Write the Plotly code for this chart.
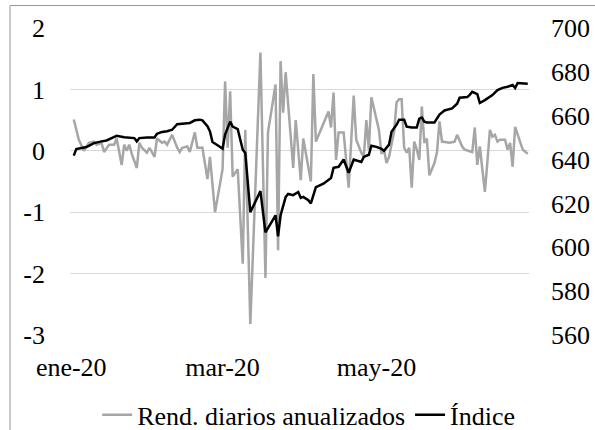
import plotly.graph_objects as go

# Daily annualised returns (left axis)
RET_DATES = [
    "2020-01-02", "2020-01-04", "2020-01-06", "2020-01-08", "2020-01-10", "2020-01-11",
    "2020-01-13", "2020-01-14", "2020-01-16", "2020-01-18", "2020-01-19", "2020-01-21",
    "2020-01-22", "2020-01-23", "2020-01-24", "2020-01-25", "2020-01-27", "2020-01-28",
    "2020-01-29", "2020-01-31", "2020-02-01", "2020-02-03", "2020-02-04", "2020-02-06",
    "2020-02-07", "2020-02-08", "2020-02-10", "2020-02-12", "2020-02-13", "2020-02-14",
    "2020-02-16", "2020-02-17", "2020-02-19", "2020-02-20", "2020-02-22", "2020-02-24",
    "2020-02-25", "2020-02-27", "2020-03-01", "2020-03-02", "2020-03-03", "2020-03-04",
    "2020-03-05", "2020-03-07", "2020-03-09", "2020-03-10", "2020-03-12", "2020-03-16",
    "2020-03-18", "2020-03-19", "2020-03-22", "2020-03-23", "2020-03-24", "2020-03-25",
    "2020-03-26", "2020-03-29", "2020-03-30", "2020-04-01", "2020-04-02", "2020-04-05",
    "2020-04-06", "2020-04-07", "2020-04-12", "2020-04-13", "2020-04-14", "2020-04-15",
    "2020-04-16", "2020-04-18", "2020-04-20", "2020-04-22", "2020-04-23", "2020-04-25",
    "2020-04-26", "2020-04-27", "2020-04-28", "2020-04-29", "2020-05-02", "2020-05-03",
    "2020-05-04", "2020-05-05", "2020-05-06", "2020-05-08", "2020-05-09", "2020-05-10",
    "2020-05-11", "2020-05-12", "2020-05-13", "2020-05-14", "2020-05-15", "2020-05-16",
    "2020-05-17", "2020-05-18", "2020-05-19", "2020-05-20", "2020-05-21", "2020-05-22",
    "2020-05-24", "2020-05-25", "2020-05-26", "2020-05-27", "2020-05-30", "2020-06-01",
    "2020-06-02", "2020-06-04", "2020-06-05", "2020-06-07", "2020-06-08", "2020-06-09",
    "2020-06-10", "2020-06-11", "2020-06-13", "2020-06-14", "2020-06-15", "2020-06-16",
    "2020-06-17", "2020-06-18", "2020-06-19", "2020-06-21", "2020-06-22", "2020-06-23",
    "2020-06-24", "2020-06-25", "2020-06-28", "2020-06-30",
]
RET_VALUES = [
    0.51, 0.18, 0.00, 0.13, 0.15, 0.10,
    0.13, -0.02, 0.10, 0.10, 0.20, -0.23,
    0.10, 0.00, 0.10, -0.05, -0.28, 0.13,
    0.05, -0.03, 0.05, -0.10, 0.20, 0.13,
    0.15, 0.10, 0.26, 0.05, -0.02, 0.05,
    0.07, -0.02, 0.30, 0.05, 0.05, -0.46,
    -0.10, -1.00, -0.30, 1.13, 0.05, 0.97,
    -0.42, -0.30, -1.84, 0.34, -2.82, 1.60,
    -2.07, 0.30, 1.08, -1.62, 1.46, 0.62,
    1.28, -0.28, 0.50, -0.48, 0.20, -0.50,
    1.25, 0.15, 0.64, 0.38, 0.95, -0.15,
    0.30, 0.30, -0.60, 0.90, 0.18, -0.03,
    -0.10, 0.50, 0.02, 0.87, 0.34, -0.05,
    0.02, -0.20, -0.10, 0.31, 0.79, 0.84,
    0.84, 0.05, -0.03, 0.05, -0.60, 0.15,
    0.02, -0.15, 0.72, 0.13, 0.20, -0.40,
    -0.20, -0.03, 0.48, 0.15, 0.13, 0.15,
    0.26, 0.07, 0.02, 0.00, -0.02, 0.38,
    -0.23, 0.07, -0.67, -0.18, 0.34, 0.23,
    0.26, 0.15, 0.18, 0.18, 0.02, 0.13,
    -0.26, 0.39, 0.02, -0.05,
]

# Index level (right axis)
IDX_DATES = [
    "2020-01-02", "2020-01-03", "2020-01-07", "2020-01-10", "2020-01-13", "2020-01-15",
    "2020-01-17", "2020-01-19", "2020-01-22", "2020-01-26", "2020-01-27", "2020-01-28",
    "2020-01-31", "2020-02-03", "2020-02-04", "2020-02-06", "2020-02-08", "2020-02-10",
    "2020-02-12", "2020-02-14", "2020-02-17", "2020-02-19", "2020-02-21", "2020-02-22",
    "2020-02-24", "2020-02-25", "2020-02-26", "2020-02-28", "2020-03-01", "2020-03-02",
    "2020-03-04", "2020-03-05", "2020-03-07", "2020-03-09", "2020-03-10", "2020-03-12",
    "2020-03-16", "2020-03-18", "2020-03-22", "2020-03-23", "2020-03-24", "2020-03-26",
    "2020-03-27", "2020-03-29", "2020-03-31", "2020-04-01", "2020-04-02", "2020-04-04",
    "2020-04-05", "2020-04-07", "2020-04-10", "2020-04-13", "2020-04-14", "2020-04-16",
    "2020-04-17", "2020-04-18", "2020-04-20", "2020-04-22", "2020-04-25", "2020-04-26",
    "2020-04-28", "2020-04-29", "2020-05-01", "2020-05-03", "2020-05-04", "2020-05-06",
    "2020-05-07", "2020-05-09", "2020-05-10", "2020-05-12", "2020-05-13", "2020-05-15",
    "2020-05-17", "2020-05-18", "2020-05-19", "2020-05-20", "2020-05-21", "2020-05-24",
    "2020-05-26", "2020-05-28", "2020-05-31", "2020-06-02", "2020-06-03", "2020-06-06",
    "2020-06-07", "2020-06-08", "2020-06-10", "2020-06-11", "2020-06-13", "2020-06-16",
    "2020-06-18", "2020-06-20", "2020-06-22", "2020-06-24", "2020-06-25", "2020-06-26",
    "2020-06-30",
]
IDX_VALUES = [
    641.8, 644.8, 645.7, 647.5, 648.3, 648.7,
    649.8, 650.8, 650.2, 649.8, 648.3, 649.8,
    650.1, 650.1, 651.8, 652.6, 652.9, 653.6,
    656.1, 656.4, 656.7, 657.9, 658.2, 657.9,
    655.2, 652.8, 648.0, 646.5, 645.0, 651.4,
    657.3, 655.0, 653.9, 644.5, 643.0, 616.0,
    625.6, 606.8, 614.6, 605.0, 614.6, 622.9,
    624.3, 623.8, 625.2, 622.5, 623.0, 621.5,
    620.0, 627.4, 629.0, 631.6, 636.2, 636.7,
    638.5, 640.0, 634.0, 640.0, 638.9, 641.2,
    642.2, 646.3, 645.8, 644.9, 644.0, 646.8,
    652.7, 655.9, 658.2, 658.2, 655.0, 654.6,
    654.6, 658.7, 659.2, 657.3, 656.9, 656.9,
    660.5, 662.4, 663.3, 665.5, 668.2, 668.5,
    669.5, 670.9, 669.8, 665.8, 667.1, 669.4,
    671.7, 672.7, 673.2, 674.0, 672.6, 674.9,
    674.6,
]

X_TICK_VALS = ["2020-01-01", "2020-03-01", "2020-05-01"]
X_TICK_TEXT = ["ene-20", "mar-20", "may-20"]
LEFT_TICK_VALS = [2, 1, 0, -1, -2, -3]
LEFT_TICK_TEXT = ["2", "1", "0", "-1", "-2", "-3"]
RIGHT_TICK_VALS = [700, 680, 660, 640, 620, 600, 580, 560]

FONT = "'Liberation Serif', 'DejaVu Serif', serif"
GRID_COLOUR = "#d9d9d9"
RET_COLOUR = "#a6a6a6"
IDX_COLOUR = "#000000"

fig = go.Figure()

fig.add_trace(
    go.Scatter(
        x=RET_DATES,
        y=RET_VALUES,
        mode="lines",
        name="Rend. diarios anualizados",
        line={"color": RET_COLOUR, "width": 2.5},
        yaxis="y",
    )
)
fig.add_trace(
    go.Scatter(
        x=IDX_DATES,
        y=IDX_VALUES,
        mode="lines",
        name="Índice",
        line={"color": IDX_COLOUR, "width": 2.5},
        yaxis="y2",
    )
)

tick_font = {"family": FONT, "size": 26, "color": "#000000"}

fig.update_layout(
    width=595,
    height=430,
    margin={"l": 70, "r": 66, "t": 28, "b": 95, "autoexpand": False},
    paper_bgcolor="white",
    plot_bgcolor="white",
    font=tick_font,
    showlegend=True,
    legend={
        "orientation": "h",
        "x": 0.52,
        "xanchor": "center",
        "y": -0.26,
        "yanchor": "middle",
        "font": tick_font,
        "itemwidth": 30,
        "tracegroupgap": 0,
    },
    xaxis={
        "type": "date",
        "range": ["2019-12-31 12:00", "2020-06-30 12:00"],
        "tickvals": X_TICK_VALS,
        "ticktext": X_TICK_TEXT,
        "showgrid": False,
        "zeroline": False,
        "showline": False,
        "ticks": "",
        "ticklabelstandoff": 14,
        "automargin": False,
        "tickfont": tick_font,
    },
    yaxis={
        "range": [-3, 2],
        "tickvals": LEFT_TICK_VALS,
        "ticktext": LEFT_TICK_TEXT,
        "showgrid": True,
        "gridcolor": GRID_COLOUR,
        "gridwidth": 1,
        "zeroline": False,
        "showline": False,
        "ticks": "",
        "ticklabelstandoff": 24,
        "automargin": False,
        "tickfont": tick_font,
    },
    yaxis2={
        "range": [560, 700],
        "tickvals": RIGHT_TICK_VALS,
        "overlaying": "y",
        "side": "right",
        "showgrid": False,
        "zeroline": False,
        "showline": False,
        "ticks": "",
        "ticklabelstandoff": 21,
        "automargin": False,
        "tickfont": tick_font,
    },
    shapes=[
        # chart-area border (runs off the right and bottom edges of the picture)
        {
            "type": "rect",
            "xref": "paper",
            "yref": "paper",
            "x0": -0.1307,
            "x1": 1.3,
            "y0": -0.5,
            "y1": 1.0732,
            "line": {"color": "#999999", "width": 1},
            "fillcolor": "rgba(0,0,0,0)",
            "layer": "below",
        }
    ],
)

# the page's default body margin would shift the whole figure by 8px
fig.write_html(
    "out.html",
    config={"displayModeBar": False},
    post_script="document.body.style.margin = '0';",
)
